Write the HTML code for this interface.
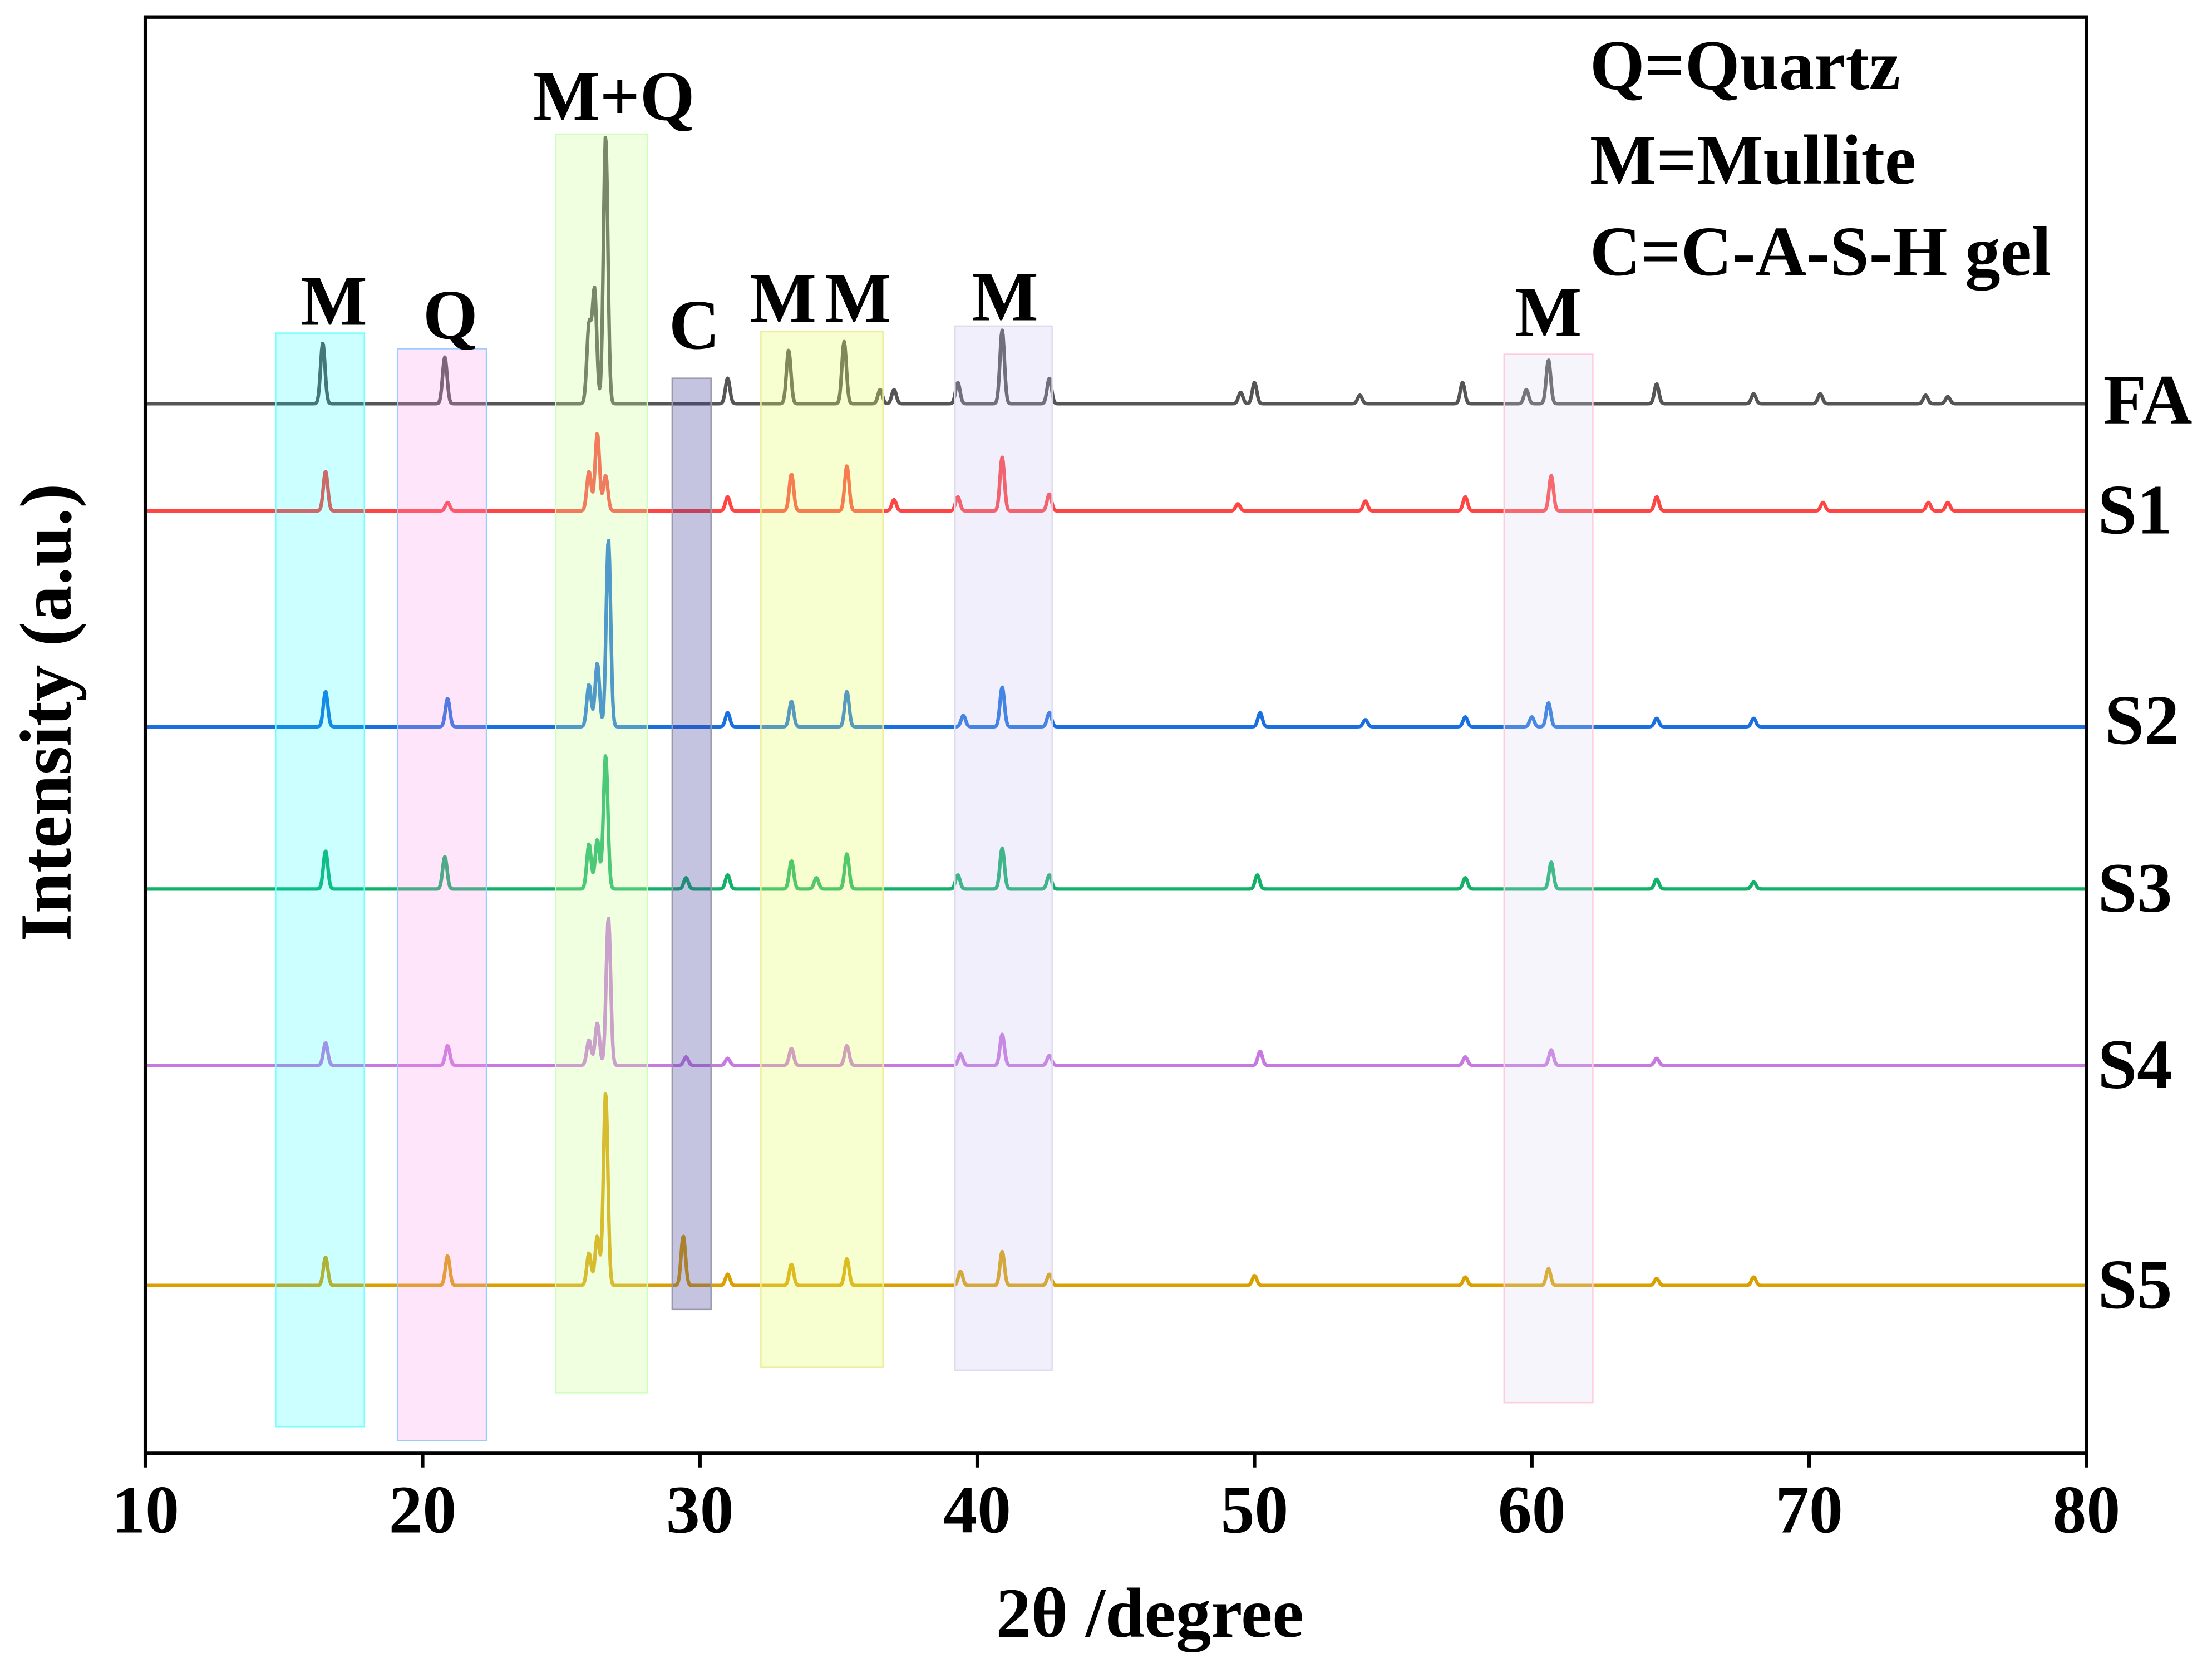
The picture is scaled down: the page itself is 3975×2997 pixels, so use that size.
<!DOCTYPE html>
<html><head><meta charset="utf-8"><style>
html,body{margin:0;padding:0;background:#fff}
svg{display:block}
text{font-family:"Liberation Serif",serif;font-weight:bold;fill:#000}
</style></head><body>
<svg id="chart" width="3975" height="2997" viewBox="0 0 1568 1182" xmlns="http://www.w3.org/2000/svg">
<g id="lines"></g>
<g id="boxes"></g>
<rect x="103" y="12" width="1376" height="1018" fill="none" stroke="#000" stroke-width="2.5"/>
<g id="xticks"></g>
<text x="815" y="1160" font-size="50" text-anchor="middle">2θ /degree</text>
<text transform="translate(50,505) rotate(-90)" font-size="52" text-anchor="middle">Intensity (a.u.)</text>
<g font-size="50">
<text x="1127" y="63">Q=Quartz</text>
<text x="1127" y="130">M=Mullite</text>
<text x="1127" y="195">C=C-A-S-H gel</text>
</g>
<g id="plabels" font-size="50" text-anchor="middle"></g>
<g id="slabels" font-size="50"></g>
</svg>
<script>
const xTicks=[10,20,30,40,50,60,70,80];
const seriesNames=["FA","S1","S2","S3","S4","S5"];
const seriesColors=["#555555","#ff4444","#1a6fe0","#13b06a","#c779e0","#daa000"];
const seriesBase=[286,362,515,630,755,911];
const peakPos=[
[16.4,20.8,26.0,26.2,26.6,31.0,33.2,35.2,36.5,37.0,39.3,40.9,42.6,49.5,50.0,53.8,57.5,59.8,60.6,64.5,68,70.4,74.2,75],
[16.5,20.9,26.0,26.3,26.6,31.0,33.3,35.3,37.0,39.3,40.9,42.6,49.4,54,57.6,60.7,64.5,70.5,74.3,75],
[16.5,20.9,26.0,26.3,26.7,31.0,33.3,35.3,39.5,40.9,42.6,50.2,54,57.6,60.0,60.6,64.5,68],
[16.5,20.8,26.0,26.3,26.6,29.5,31.0,33.3,34.2,35.3,39.3,40.9,42.6,50.1,57.6,60.7,64.5,68],
[16.5,20.9,26.0,26.3,26.7,29.5,31,33.3,35.3,39.4,40.9,42.6,50.2,57.6,60.7,64.5],
[16.5,20.9,26.0,26.3,26.6,29.4,31,33.3,35.3,39.4,40.9,42.6,50.0,57.6,60.6,64.5,68]];
const peakHeight=[
[43,33,55,80,190,18,38,44,10,10,15,52,18,8,15,6,15,10,31,14,7,7,6,5],
[28,6,28,55,25,10,26,32,8,10,38,12,5,7,10,25,10,6,6,6],
[25,20,30,45,133,10,18,25,8,28,10,10,5,7,7,17,6,6],
[27,23,32,35,95,8,10,20,8,25,10,29,10,10,8,19,7,5],
[16,14,18,30,105,6,5,12,14,8,22,7,10,6,11,5],
[20,21,23,35,137,35,8,15,19,10,24,8,7,6,12,5,6]];
const boxX0=[14.7,19.1,24.8,29.0,32.2,39.2,59.0];
const boxX1=[17.9,22.3,28.1,30.4,36.6,42.7,62.2];
const boxTop=[236,247,95,268,235,231,251];
const boxBottom=[1011,1021,987,928,969,971,994];
const boxFill=["#00ffff","#ff99e6","#ccff99","#3b3b9a","#e6ff66","#c8c0f0","#d8d8f0"];
const boxOpacity=[0.2,0.25,0.3,0.3,0.3,0.25,0.25];
const boxStroke=["#7ff","#9cf","#cfb","#99a","#ee9","#dde","#fcd"];
const labelText=["M","Q","M+Q","C","M","M","M","M"];
const labelX=[16.8,21.0,26.9,29.8,33.0,35.7,41.0,60.6];
const labelY=[230,240,85,247,228,228,227,238];
const NS="http://www.w3.org/2000/svg";
const xs=v=>103+(v-10)*(1376/70);
function mk(t,a,p){const e=document.createElementNS(NS,t);for(const k in a)e.setAttribute(k,a[k]);p.appendChild(e);return e;}
const L=document.getElementById('lines');
for(let s=0;s<6;s++){
 let d="";
 for(let x=10;x<=80.001;x+=0.03){
  let y=0;
  const pp=peakPos[s],ph=peakHeight[s];
  for(let i=0;i<pp.length;i++){const dx=(x-pp[i])/0.08;y+=ph[i]*Math.exp(-dx*dx/2);}
  d+=(d?"L":"M")+xs(x).toFixed(2)+","+(seriesBase[s]-y).toFixed(2);
 }
 const p=mk('path',{d:d,fill:"none",stroke:seriesColors[s],"stroke-width":2.5,"stroke-linejoin":"round"},L);
 
 
 const t=mk('text',{x:(s==0?1491:s==2?1492:1487),y:seriesBase[s]+(s==0?14:s==2?12:16)},document.getElementById('slabels'));
 t.textContent=seriesNames[s];
 
 
}
const B=document.getElementById('boxes');
for(let i=0;i<boxX0.length;i++){
 const r=mk('rect',{x:xs(boxX0[i]),y:boxTop[i],width:xs(boxX1[i])-xs(boxX0[i]),height:boxBottom[i]-boxTop[i],fill:boxFill[i],"fill-opacity":boxOpacity[i],stroke:boxStroke[i],"stroke-width":1},B);
 
 
}
const PL=document.getElementById('plabels');
for(let i=0;i<labelText.length;i++){
 const t=mk('text',{x:xs(labelX[i]),y:labelY[i]},PL);
 t.textContent=labelText[i];
 
 
}
const XT=document.getElementById('xticks');
for(const v of xTicks){
 const l=mk('line',{x1:xs(v),x2:xs(v),y1:1030,y2:1040,stroke:"#000","stroke-width":2.5},XT);
 
 
 const t=mk('text',{x:xs(v),y:1086,"font-size":48,"text-anchor":"middle"},XT);
 t.textContent=v;
 
 
}
</script>
</body></html>
